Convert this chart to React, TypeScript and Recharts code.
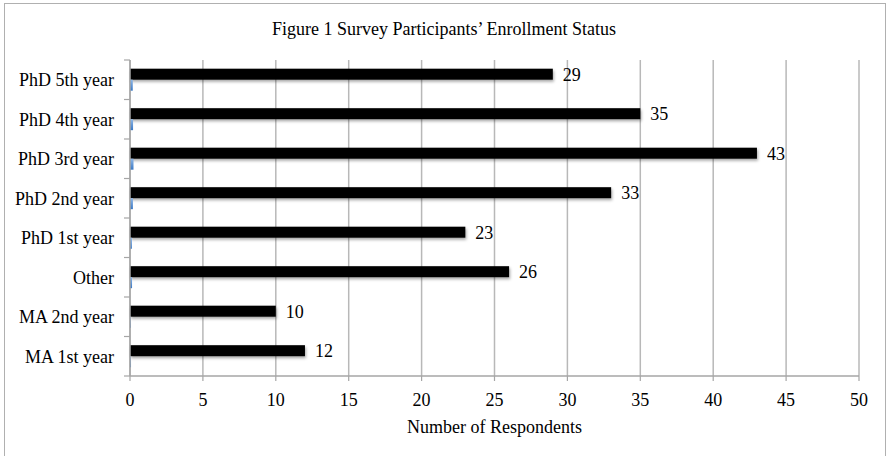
import React from "react";
import { BarChart, Bar, XAxis, YAxis, CartesianGrid, LabelList, Label } from "recharts";

const categories = [
  "PhD 5th year",
  "PhD 4th year",
  "PhD 3rd year",
  "PhD 2nd year",
  "PhD 1st year",
  "Other",
  "MA 2nd year",
  "MA 1st year",
];
const respondents = [29, 35, 43, 33, 23, 26, 10, 12];
const shares = [0.19, 0.21, 0.24, 0.2, 0.13, 0.14, 0.06, 0.07];
const xTicks = [0, 5, 10, 15, 20, 25, 30, 35, 40, 45, 50];

const data = categories.map((c, i) => ({ name: c, count: respondents[i], share: shares[i] }));

const W = 888;
const H = 456;
const M = { top: 60, right: 29, bottom: 20, left: 10 };
const Y_W = 120;
const X_H = 60;
const AXIS_X = M.left + Y_W;
const PLOT_H = H - M.top - M.bottom - X_H;
const BAND = PLOT_H / categories.length;
const FONT = "'Liberation Serif', 'Times New Roman', serif";

const YTick = (props: any) => {
  const { y, payload, index } = props;
  const last = index === categories.length - 1;
  return (
    <g>
      <line x1={AXIS_X - 6} x2={AXIS_X} y1={y - BAND / 2} y2={y - BAND / 2} stroke="#a6a6a6" strokeWidth={1.2} />
      {last && (
        <line x1={AXIS_X - 6} x2={AXIS_X} y1={y + BAND / 2} y2={y + BAND / 2} stroke="#a6a6a6" strokeWidth={1.2} />
      )}
      <text x={AXIS_X - 16} y={y} dy="0.35em" textAnchor="end" fill="#000" fontSize={18} fontFamily={FONT}>
        {payload.value}
      </text>
    </g>
  );
};

const ShadowBar = (props: any) => {
  const { x, y, width, height, fill } = props;
  if (!width || width <= 0) return null;
  return <rect x={x} y={y} width={width} height={height} fill={fill} filter="url(#barShadow)" />;
};

export default function App() {
  return (
    <div style={{ position: "absolute", left: 0, top: 0, width: W, height: H, background: "#fff", overflow: "hidden" }}>
      <div
        style={{
          position: "absolute",
          left: 4,
          top: 3,
          width: 882,
          height: 470,
          border: "1.5px solid #b0b0b0",
          boxSizing: "border-box",
        }}
      />
      <div
        style={{
          position: "absolute",
          left: 0,
          top: 20,
          width: W,
          textAlign: "center",
          fontFamily: FONT,
          fontSize: 18,
          lineHeight: "18px",
          color: "#000",
        }}
      >
        Figure 1 Survey Participants’ Enrollment Status
      </div>
      <div style={{ position: "absolute", left: 0, top: 0 }}>
        <BarChart
          width={W}
          height={H}
          data={data}
          layout="vertical"
          margin={M}
          barCategoryGap="22%"
          barGap={0}
        >
          <defs>
            <filter id="barShadow" x="-5%" y="-50%" width="110%" height="220%">
              <feDropShadow dx="1" dy="2" stdDeviation="1.5" floodColor="#000" floodOpacity="0.35" />
            </filter>
            <linearGradient id="blueGrad" x1="0" y1="0" x2="0" y2="1">
              <stop offset="0%" stopColor="#8fb8e8" />
              <stop offset="100%" stopColor="#3a78c4" />
            </linearGradient>
          </defs>
          <CartesianGrid horizontal={false} stroke="#b8b8b8" strokeWidth={1.5} />
          <XAxis
            type="number"
            domain={[0, 50]}
            ticks={xTicks}
            interval={0}
            height={X_H}
            tickSize={5}
            tickMargin={12}
            axisLine={{ stroke: "#a6a6a6", strokeWidth: 1.5 }}
            tickLine={{ stroke: "#a6a6a6", strokeWidth: 1.2 }}
            tick={{ fill: "#000", fontSize: 18, fontFamily: FONT }}
          >
            <Label
              value="Number of Respondents"
              position="insideBottom"
              offset={3}
              fill="#000"
              fontSize={18}
              fontFamily={FONT}
            />
          </XAxis>
          <YAxis
            type="category"
            dataKey="name"
            width={Y_W}
            tickLine={false}
            interval={0}
            axisLine={{ stroke: "#a6a6a6", strokeWidth: 1.5 }}
            tick={<YTick />}
          />
          <Bar dataKey="count" fill="#000" isAnimationActive={false} shape={<ShadowBar />}>
            <LabelList dataKey="count" position="right" offset={10} fill="#000" fontSize={18} fontFamily={FONT} />
          </Bar>
          <Bar dataKey="share" fill="url(#blueGrad)" isAnimationActive={false} />
        </BarChart>
      </div>
    </div>
  );
}
